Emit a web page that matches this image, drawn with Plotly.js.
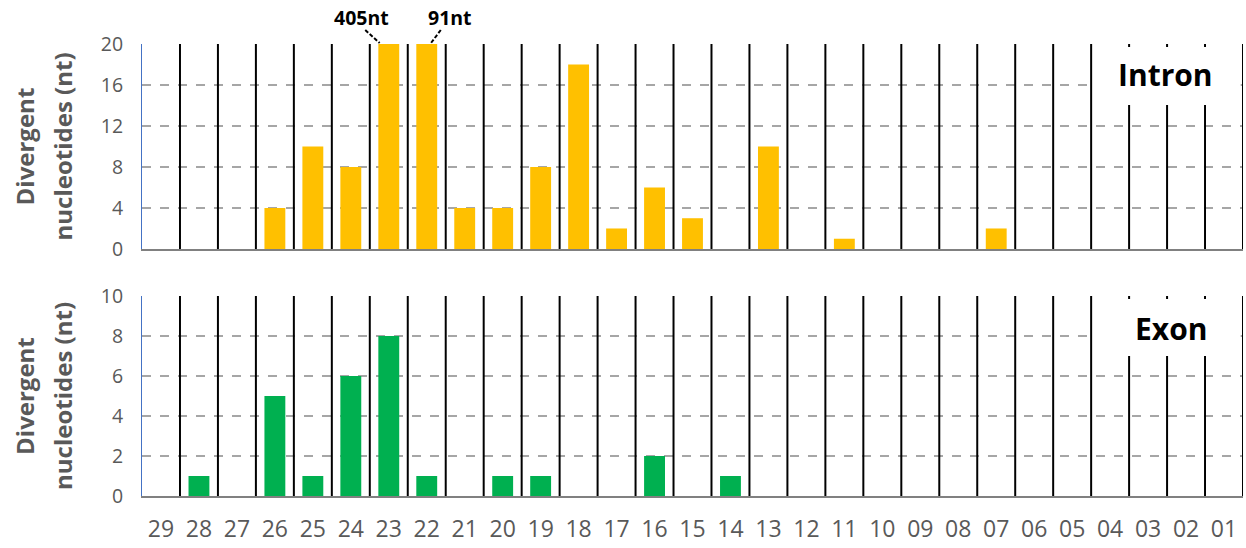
<!DOCTYPE html>
<html>
<head>
<meta charset="utf-8">
<script src="https://cdn.plot.ly/plotly-3.0.1.min.js"></script>
<style>html,body{margin:0;padding:0;background:#fff;}#chart{width:1246px;height:548px;}</style>
</head>
<body>
<div id="chart"></div>
<script>
// Data
const categories = ["29","28","27","26","25","24","23","22","21","20","19","18","17","16","15","14","13","12","11","10","09","08","07","06","05","04","03","02","01"];
const intronValues = [0,0,0,4,10,8,405,91,4,4,8,18,2,6,3,0,10,0,1,0,0,0,2,0,0,0,0,0,0];
const exonValues   = [0,1,0,5,1,6,8,1,0,1,1,0,0,2,0,1,0,0,0,0,0,0,0,0,0,0,0,0,0];
const intronMax = 20;
const exonMax = 10;
const intronTicks = [0,4,8,12,16,20];
const exonTicks = [0,2,4,6,8,10];
const panelLabels = ["Intron","Exon"];
const yTitleLines = ["Divergent","nucleotides (nt)"];

const FONT = "Open Sans, Noto Sans, sans-serif";
const GRAY = "#595959";

const traces = [
  {type:"bar", x:categories, y:intronValues, xaxis:"x", yaxis:"y",
   marker:{color:"#FFC000"}, width:0.55, cliponaxis:true, hoverinfo:"x+y"},
  {type:"bar", x:categories, y:exonValues, xaxis:"x2", yaxis:"y2",
   marker:{color:"#00B050"}, width:0.55, hoverinfo:"x+y"}
];

const shapes = [];
const annotations = [];
// vertical category boundary lines
function addBoundaries(xr, yr, ymax){
  for(let i=0;i<categories.length;i++){
    shapes.push({type:"line", xref:xr, yref:yr, x0:i+0.5, x1:i+0.5, y0:0, y1:ymax,
      line:{color:"#000", width:2}, layer:"above"});
  }
}
addBoundaries("x","y",intronMax);
addBoundaries("x2","y2",exonMax);
// white label boxes
const n = categories.length;
shapes.push({type:"rect", xref:"x", yref:"y", x0:n-4.5+0.06, x1:n-0.5-0.06, y0:14.05, y1:intronMax*0.985,
  fillcolor:"#fff", line:{width:0}, layer:"above"});
shapes.push({type:"rect", xref:"x2", yref:"y2", x0:n-4.5+0.06, x1:n-0.5-0.06, y0:7.0, y1:exonMax*0.985,
  fillcolor:"#fff", line:{width:0}, layer:"above"});
annotations.push({xref:"x", yref:"y", x:n-2.55, y:17.0, text:"<b>"+panelLabels[0]+"</b>", showarrow:false,
  font:{family:FONT, size:30, color:"#000"}});
annotations.push({xref:"x2", yref:"y2", x:n-2.4, y:8.35, text:"<b>"+panelLabels[1]+"</b>", showarrow:false,
  font:{family:FONT, size:30, color:"#000"}});

// labels for clipped bars
const firstClipped = intronValues.findIndex(v=>v>intronMax);
intronValues.forEach((v,i)=>{
  if(v>intronMax){
    const left = i === firstClipped;
    const tx = left ? i-0.72 : i+0.6;
    const lx0 = left ? i-0.62 : i+0.37;
    const lx1 = left ? i-0.24 : i+0.11;
    annotations.push({xref:"x", yref:"paper", x:tx, y:1.058, yanchor:"middle", xanchor:"center",
      text:"<b>"+v+"nt</b>", showarrow:false,
      font:{family:FONT, size:19.5, color:"#000"}});
    shapes.push({type:"line", xref:"x", yref:"paper", x0:lx0, x1:lx1, y0:1.031, y1:1.002,
      line:{color:"#000", width:2, dash:"4px,2px"}, layer:"above"});
  }
});

// y-axis titles (two lines each, as rotated text)
const domTop = [0.5465,1], domBot = [0,0.4425];
[domTop, domBot].forEach(d=>{
  const yc = (d[0]+d[1])/2;
  [-0.1063,-0.0718].forEach((xp,k)=>{
    annotations.push({xref:"paper", yref:"paper", x:xp, y:yc, xanchor:"center", yanchor:"middle",
      textangle:-90, showarrow:false, text:"<b>"+yTitleLines[k]+"</b>",
      font:{family:FONT, size:24, color:GRAY}});
  });
});

const yCommon = {showline:true, linecolor:"#4472C4", linewidth:1, ticks:"", showgrid:true,
  gridcolor:"#A6A6A6", gridwidth:2, griddash:"dash", zeroline:false,
  tickfont:{family:FONT, size:19.5, color:GRAY}, ticklabelstandoff:14, fixedrange:true};
const xCommon = {domain:[0,1], type:"category", range:[-0.5,n-0.5], showgrid:false, ticks:"",
  showline:true, linecolor:"#808080", linewidth:2, zeroline:false};

const layout = {
  width:1246, height:548,
  margin:{l:142, r:3, t:44, b:52},
  paper_bgcolor:"#fff", plot_bgcolor:"#fff",
  showlegend:false, bargap:0.45,
  xaxis:Object.assign({}, xCommon, {anchor:"y", showticklabels:false}),
  xaxis2:Object.assign({}, xCommon, {anchor:"y2", tickfont:{family:FONT, size:23, color:GRAY}, ticklabelstandoff:11}),
  yaxis:Object.assign({}, yCommon, {domain:domTop, anchor:"x", range:[0,intronMax], tickvals:intronTicks}),
  yaxis2:Object.assign({}, yCommon, {domain:domBot, anchor:"x2", range:[0,exonMax], tickvals:exonTicks}),
  shapes:shapes, annotations:annotations
};

Plotly.newPlot("chart", traces, layout, {displayModeBar:false, staticPlot:true});
</script>
</body>
</html>
